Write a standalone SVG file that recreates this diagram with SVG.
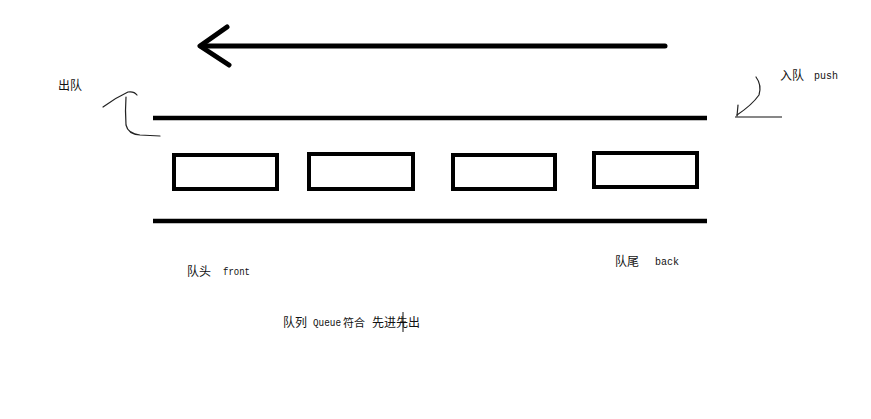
<svg xmlns="http://www.w3.org/2000/svg" width="871" height="419" viewBox="0 0 871 419">
<style>
.cjk{font-family:"Noto Sans CJK SC","Liberation Sans",sans-serif;font-size:12px;fill:#111}
.lat{font-family:"Liberation Mono",monospace;font-size:10px;fill:#111}
.box{fill:#fff;stroke:#000;stroke-width:4}
.rail{stroke:#000;stroke-width:4.5}
.hand{fill:none;stroke:#222;stroke-width:1.2;stroke-linecap:round;stroke-linejoin:round}
</style>
<rect width="871" height="419" fill="#fff"/>
<g id="direction-arrow">
<line x1="201" y1="46" x2="665" y2="46" stroke="#000" stroke-width="5" stroke-linecap="round"/>
<polyline points="227,27 200,46 229,65" fill="none" stroke="#000" stroke-width="5" stroke-linecap="round" stroke-linejoin="round"/>
</g>
<g id="queue-rails">
<line class="rail" x1="153" y1="118" x2="707" y2="118"/>
<line class="rail" x1="153" y1="221" x2="707" y2="221"/>
</g>
<g id="box1"><rect class="box" x="174" y="155" width="103" height="34"/></g>
<g id="box2"><rect class="box" x="309" y="154" width="104" height="35"/></g>
<g id="box3"><rect class="box" x="453" y="155" width="102" height="34"/></g>
<g id="box4"><rect class="box" x="594" y="153" width="103" height="34"/></g>
<g id="connectors">
<path class="hand" d="M103,107 Q115,98 128,92 Q134,91 137,95"/>
<path class="hand" d="M126,97 Q125,110 126,125 Q128,134 140,135 L160,136"/>
<path class="hand" d="M756,77 Q762,85 759,95 Q752,105 737,115"/>
<path class="hand" d="M738,105 L737,116"/>
<line x1="735" y1="117" x2="782" y2="117" stroke="#111" stroke-width="1.2"/>
</g>
<g id="label-dequeue"><text class="cjk" x="58" y="90">出队</text></g>
<g id="label-enqueue"><text class="cjk" x="780" y="80">入队</text><text class="lat" x="814" y="79" textLength="24" lengthAdjust="spacingAndGlyphs">push</text></g>
<g id="label-front"><text class="cjk" x="187" y="276">队头</text><text class="lat" x="223" y="275" textLength="27" lengthAdjust="spacingAndGlyphs">front</text></g>
<g id="label-back"><text class="cjk" x="615" y="266">队尾</text><text class="lat" x="655" y="265" textLength="24" lengthAdjust="spacingAndGlyphs">back</text></g>
<g id="label-caption">
<text class="cjk" x="283" y="327">队列</text>
<text class="lat" x="313" y="326" textLength="28" lengthAdjust="spacingAndGlyphs">Queue</text>
<text class="cjk" x="343" y="327" style="font-size:11px">符合</text>
<text class="cjk" x="372" y="327">先进先出</text>
<g stroke="#111" stroke-width="1"><line x1="403" y1="312" x2="403" y2="332"/><line x1="400" y1="322" x2="406" y2="322"/></g>
</g>
</svg>
